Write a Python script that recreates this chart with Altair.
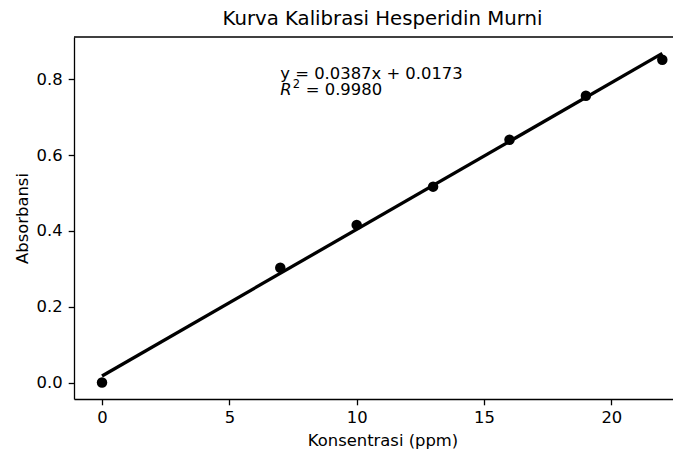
import altair as alt
import pandas as pd

# Data
conc = [0, 7, 10, 13, 16, 19, 22]
absorb = [0.000, 0.303, 0.416, 0.517, 0.641, 0.757, 0.852]

# Regression shown in the chart
slope = 0.0387
intercept = 0.0173
r2 = 0.9980
fit_x = [0, 22]
fit_y = [slope * v + intercept for v in fit_x]

x_ticks = [0, 5, 10, 15, 20]
y_ticks = [0.0, 0.2, 0.4, 0.6, 0.8]
x_domain = [-1.1, 22.42]
y_domain = [-0.0435, 0.912]

ann_x = [7]
ann_y = [0.8]

title_text = "Kurva Kalibrasi Hesperidin Murni"
x_title = "Konsentrasi (ppm)"
y_title = "Absorbansi"
eq_text = f"y = {slope:.4f}x + {intercept:.4f}"
r2_text = f"= {r2:.4f}"

FONT = "DejaVu Sans"
W, H = 599, 362

pts = pd.DataFrame({"x": conc, "y": absorb})
fit = pd.DataFrame({"x": fit_x, "y": fit_y})
ann = pd.DataFrame({"x": ann_x, "y": ann_y})

xs = alt.Scale(domain=x_domain, nice=False, zero=False)
ys = alt.Scale(domain=y_domain, nice=False, zero=False)

x_axis = alt.Axis(values=x_ticks, title=x_title, format="d", labelPadding=5,
                  titleY=46.5, titleBaseline="alphabetic", titleX=308.5)
y_axis = alt.Axis(values=y_ticks, title=y_title, format=".1f", labelPadding=6,
                  titleX=-47, titleBaseline="alphabetic")

X = alt.X("x:Q", scale=xs, axis=x_axis)
Y = alt.Y("y:Q", scale=ys, axis=y_axis)

line = alt.Chart(fit).mark_line(color="black", strokeWidth=3.3).encode(x=X, y=Y)

points = alt.Chart(pts).mark_circle(color="black", size=110, opacity=1).encode(x=X, y=Y)

# top spine of the frame
top_spine = alt.Chart(ann).mark_rule(color="black", strokeWidth=1.3).encode(
    x=alt.value(0), x2=alt.value(W), y=alt.value(0)
)

txt_common = dict(align="left", baseline="alphabetic", font=FONT, color="black")
LINE1 = 0
LINE2 = 16

eq = alt.Chart(ann).mark_text(text=eq_text, fontSize=16.4, dx=0, dy=LINE1,
                              **txt_common).encode(x=X, y=Y)
r_letter = alt.Chart(ann).mark_text(text="R", fontSize=16.4, fontStyle="italic",
                                    dx=0, dy=LINE2, **txt_common).encode(x=X, y=Y)
r_sup = alt.Chart(ann).mark_text(text="2", fontSize=11.5, dx=12.5, dy=LINE2 - 7,
                                 **txt_common).encode(x=X, y=Y)
r_rest = alt.Chart(ann).mark_text(text=r2_text, fontSize=16.4, dx=25.5, dy=LINE2,
                                  **txt_common).encode(x=X, y=Y)

chart = alt.layer(line, points, top_spine, eq, r_letter, r_sup, r_rest).properties(
    width=W,
    height=H,
    autosize=alt.AutoSizeParams(type="none"),
    padding={"left": 66, "top": 29, "right": 0, "bottom": 56},
    title=alt.TitleParams(title_text, font=FONT, fontSize=19.7, fontWeight="normal",
                          color="black", anchor="middle", baseline="alphabetic",
                          offset=10, dx=9, dy=18),
).configure_view(stroke=None).configure_axis(
    domainColor="black", domainWidth=1.3, tickColor="black", tickWidth=1.3,
    tickSize=5.8, labelColor="black", labelFont=FONT, labelFontSize=16.4,
    titleFont=FONT, titleFontSize=16.4, titleFontWeight="normal",
    titleColor="black", grid=False,
)

chart.save("out.html", embed_options={"renderer": "svg", "actions": False})
